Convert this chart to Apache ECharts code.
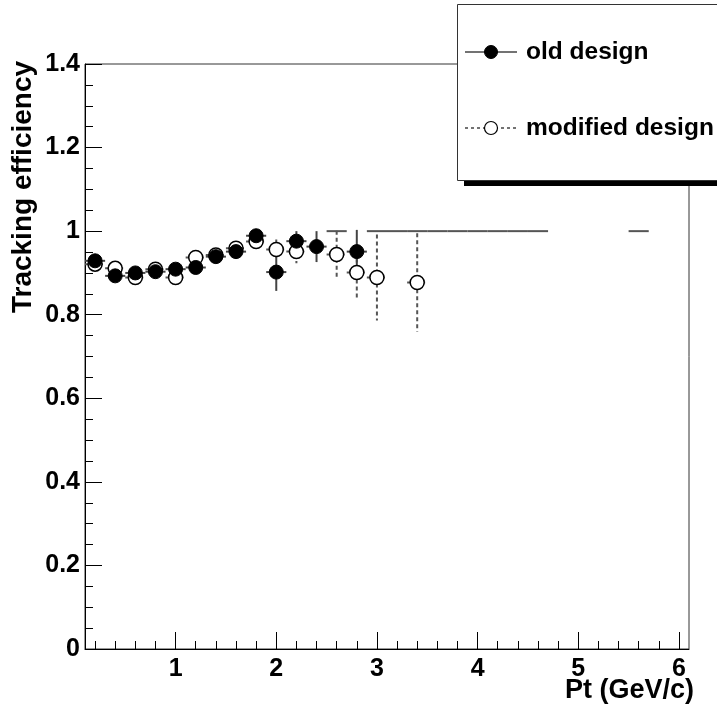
<!DOCTYPE html>
<html>
<head>
<meta charset="utf-8">
<script src="https://cdn.jsdelivr.net/npm/echarts@6/dist/echarts.min.js"></script>
<style>html,body{margin:0;padding:0;background:#fff;}#c{width:717px;height:715px;}</style>
</head>
<body>
<div id="c"></div>
<script>
// ---- data ----
var binHalfWidth = 0.1;
var ptOld  = [0.2, 0.4, 0.6, 0.8, 1.0, 1.2, 1.4, 1.6, 1.8, 2.0, 2.2, 2.4, 2.8];
var effOld = [0.929, 0.893, 0.900, 0.903, 0.909, 0.913, 0.939, 0.951, 0.989, 0.902, 0.976, 0.963, 0.951];
var errOld = [0.008, 0.008, 0.008, 0.008, 0.009, 0.010, 0.011, 0.012, 0.012, 0.045, 0.024, 0.037, 0.052];

var ptMod  = [0.2, 0.4, 0.6, 0.8, 1.0, 1.2, 1.4, 1.6, 1.8, 2.0, 2.2, 2.6, 2.8, 3.0, 3.4];
var effMod = [0.921, 0.911, 0.889, 0.909, 0.889, 0.937, 0.943, 0.959, 0.975, 0.956, 0.951, 0.944, 0.901, 0.889, 0.877];
var errMod = [0.008, 0.008, 0.008, 0.009, 0.009, 0.010, 0.011, 0.012, 0.013, 0.024, 0.028, 0.057, 0.067, 0.103, 0.118];

// bins with efficiency exactly 1 (drawn as bare bin-width bars)
var ptFull  = [2.6, 3.0, 3.2, 3.4, 3.6, 3.8, 4.0, 4.2, 4.4, 4.6, 5.6];
var effFull = [1, 1, 1, 1, 1, 1, 1, 1, 1, 1, 1];

var xMajorTicks = [1, 2, 3, 4, 5, 6];
var xMinorTicks = [0.2, 0.4, 0.6, 0.8, 1.2, 1.4, 1.6, 1.8, 2.2, 2.4, 2.6, 2.8, 3.2, 3.4, 3.6, 3.8,
                   4.2, 4.4, 4.6, 4.8, 5.2, 5.4, 5.6, 5.8, 6.0];

var FONT = "'Liberation Sans', Arial, Helvetica, sans-serif";

function zip(xs, ys, es) {
  return xs.map(function (x, i) { return [x, ys[i], binHalfWidth, es ? es[i] : 0]; });
}

function errRender(color, dash) {
  return function (params, api) {
    var x = api.value(0), y = api.value(1), ex = api.value(2), ey = api.value(3);
    var l = api.coord([x - ex, y]), r = api.coord([x + ex, y]);
    var t = api.coord([x, y + ey]), b = api.coord([x, y - ey]);
    var st = { stroke: color, lineWidth: 2, lineDash: dash };
    var ch = [{ type: 'line', shape: { x1: l[0], y1: l[1], x2: r[0], y2: r[1] }, style: st }];
    if (ey > 0) ch.push({ type: 'line', shape: { x1: t[0], y1: t[1], x2: b[0], y2: b[1] }, style: st });
    return { type: 'group', children: ch };
  };
}

var chart = echarts.init(document.getElementById('c'), null, { renderer: 'canvas' });

var option = {
  animation: false,
  backgroundColor: '#fff',
  grid: { left: 85, top: 64, width: 604, height: 585, show: true, borderColor: '#333', borderWidth: 1, backgroundColor: 'transparent' },
  xAxis: [{
    type: 'value', min: 0.1, max: 6.1,
    axisLine: { show: true, onZero: false, lineStyle: { color: '#000', width: 1 } },
    axisTick: { show: true, inside: true, length: 17, customValues: xMajorTicks, lineStyle: { color: '#000', width: 1 } },
    axisLabel: { show: true, customValues: xMajorTicks, margin: 8, color: '#000', fontSize: 25, fontWeight: 'bold', fontFamily: FONT },
    splitLine: { show: false }
  }, {
    type: 'value', min: 0.1, max: 6.1, position: 'bottom',
    axisLine: { show: false },
    axisTick: { show: true, inside: true, length: 8, customValues: xMinorTicks, lineStyle: { color: '#000', width: 1 } },
    axisLabel: { show: false },
    splitLine: { show: false }
  }],
  yAxis: {
    type: 'value', min: 0, max: 1.4, interval: 0.2,
    axisLine: { show: true, lineStyle: { color: '#000', width: 1 } },
    axisTick: { show: true, inside: true, length: 17, lineStyle: { color: '#000', width: 1 } },
    minorTick: { show: true, splitNumber: 4, length: 8, lineStyle: { color: '#000', width: 1 } },
    axisLabel: { margin: 5, color: '#000', fontSize: 25, fontWeight: 'bold', fontFamily: FONT },
    splitLine: { show: false }, minorSplitLine: { show: false }
  },
  series: [
    {
      name: 'full', type: 'custom', xAxisIndex: 0, z: 1,
      renderItem: errRender('#555', null),
      data: zip(ptFull, effFull, null)
    },
    {
      name: 'modified design err', type: 'custom', xAxisIndex: 0, z: 2,
      renderItem: errRender('#555', [4, 3]),
      data: zip(ptMod, effMod, errMod)
    },
    {
      name: 'old design err', type: 'custom', xAxisIndex: 0, z: 3,
      renderItem: errRender('#444', null),
      data: zip(ptOld, effOld, errOld)
    },
    {
      name: 'modified design', type: 'scatter', xAxisIndex: 0, z: 4,
      symbol: 'circle', symbolSize: 14,
      itemStyle: { color: '#fff', borderColor: '#000', borderWidth: 1.5, opacity: 1 },
      data: ptMod.map(function (x, i) { return [x, effMod[i]]; })
    },
    {
      name: 'old design', type: 'scatter', xAxisIndex: 0, z: 5,
      symbol: 'circle', symbolSize: 14,
      itemStyle: { color: '#000', borderColor: '#000', borderWidth: 1, opacity: 1 },
      data: ptOld.map(function (x, i) { return [x, effOld[i]]; })
    }
  ],
  graphic: [
    { type: 'text', x: 694, y: 691, z: 10,
      style: { text: 'Pt (GeV/c)', fill: '#000', font: 'bold 27px ' + FONT, textAlign: 'right', textVerticalAlign: 'middle' } },
    { type: 'text', x: 23, y: 187, rotation: Math.PI / 2, z: 10,
      style: { text: 'Tracking efficiency', fill: '#000', font: 'bold 28px ' + FONT, textAlign: 'center', textVerticalAlign: 'middle' } },
    // legend box
    { type: 'rect', z: 20, shape: { x: 464, y: 181, width: 270, height: 5 }, style: { fill: '#000' } },
    { type: 'rect', z: 21, shape: { x: 457.5, y: 4.5, width: 280, height: 176 }, style: { fill: '#fff', stroke: '#333', lineWidth: 1 } },
    { type: 'line', z: 22, shape: { x1: 465, y1: 52, x2: 517, y2: 52 }, style: { stroke: '#444', lineWidth: 1.5 } },
    { type: 'circle', z: 23, shape: { cx: 491, cy: 52, r: 6.5 }, style: { fill: '#000', stroke: '#000', lineWidth: 1 } },
    { type: 'text', z: 23, x: 526, y: 52, style: { text: 'old design', fill: '#000', font: 'bold 24.5px ' + FONT, textVerticalAlign: 'middle' } },
    { type: 'line', z: 22, shape: { x1: 465, y1: 128, x2: 517, y2: 128 }, style: { stroke: '#444', lineWidth: 1.5, lineDash: [3, 3] } },
    { type: 'circle', z: 23, shape: { cx: 491, cy: 128, r: 6.5 }, style: { fill: '#fff', stroke: '#000', lineWidth: 1.2 } },
    { type: 'text', z: 23, x: 526, y: 128, style: { text: 'modified design', fill: '#000', font: 'bold 24.5px ' + FONT, textVerticalAlign: 'middle' } }
  ]
};
chart.setOption(option);
</script>
</body>
</html>
